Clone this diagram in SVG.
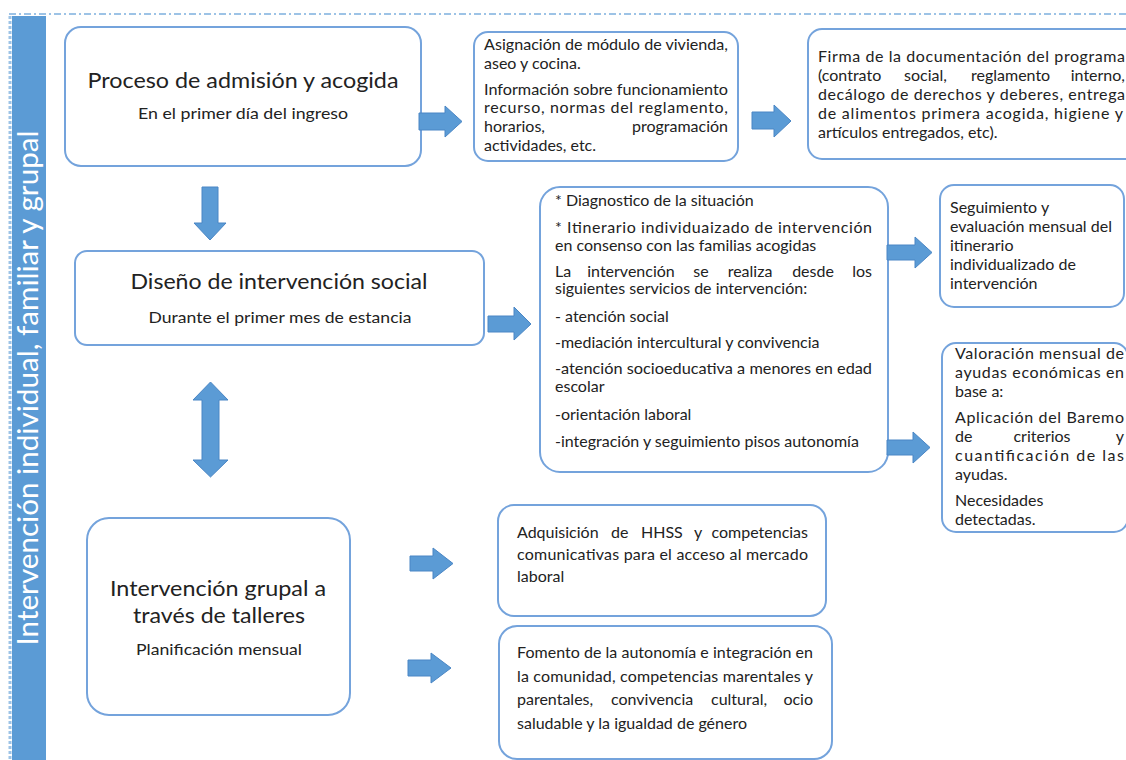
<svg xmlns="http://www.w3.org/2000/svg" width="1126" height="760" viewBox="0 0 1126 760">
<style>
  .box { fill: #ffffff; stroke: #74a3dc; stroke-width: 2; }
  .arrow { fill: #5b9bd5; stroke: #4a86c5; stroke-width: 1; }
  text { font-family: Lato, "Liberation Sans", sans-serif; fill: #222222; }
  .title { font-size: 22px; text-anchor: middle; }
  .sub { font-size: 16px; text-anchor: middle; }
  .body { font-size: 16px; }
  .end { text-anchor: end; }
  .mid { text-anchor: middle; }
  .side { font-size: 28px; fill: #ffffff; text-anchor: middle; }
</style>

<g id="frame">
  <line x1="9" y1="14" x2="1126" y2="14" stroke="#9dc3e6" stroke-width="2" stroke-dasharray="7 3 2 3"/>
  <line x1="10" y1="16" x2="10" y2="760" stroke="#9dc3e6" stroke-width="3" stroke-dasharray="3 2"/>
  <rect x="12" y="16" width="34" height="744" fill="#5b9bd5"/>
  <text class="side" transform="translate(38,388) rotate(-90)" textLength="515" lengthAdjust="spacingAndGlyphs">Intervención individual, familiar y grupal</text>
</g>

<g id="node-admision">
  <rect class="box" x="65" y="27" width="356" height="139" rx="16"/>
  <text class="title" x="243" y="88" font-size="23" textLength="311" lengthAdjust="spacingAndGlyphs">Proceso de admisión y acogida</text>
  <text class="sub" x="243" y="119" textLength="210" lengthAdjust="spacingAndGlyphs">En el primer día del ingreso</text>
</g>

<g id="node-asignacion">
  <rect class="box" x="474" y="32" width="264" height="129" rx="14"/>
  <text class="body" x="484" y="50" textLength="244" lengthAdjust="spacingAndGlyphs">Asignación de módulo de vivienda,</text>
  <text class="body" x="484" y="69">aseo y cocina.</text>
  <text class="body" x="484" y="95" textLength="244" lengthAdjust="spacingAndGlyphs">Información sobre funcionamiento</text>
  <text class="body" x="484" y="113" textLength="244" lengthAdjust="spacing">recurso, normas del reglamento,</text>
  <text class="body" x="484" y="132">horarios,</text>
  <text class="body end" x="728" y="132">programación</text>
  <text class="body" x="484" y="151">actividades, etc.</text>
</g>

<g id="node-firma">
  <rect class="box" x="808" y="29" width="340" height="130" rx="14"/>
  <text class="body" x="818" y="62" textLength="307" lengthAdjust="spacing">Firma de la documentación del programa</text>
  <text class="body" x="818" y="81">(contrato</text>
  <text class="body" x="904" y="81">social,</text>
  <text class="body" x="971" y="81">reglamento</text>
  <text class="body end" x="1125" y="81">interno,</text>
  <text class="body" x="818" y="100" textLength="307" lengthAdjust="spacing">decálogo de derechos y deberes, entrega</text>
  <text class="body" x="818" y="119" textLength="305" lengthAdjust="spacing">de alimentos primera acogida, higiene y</text>
  <text class="body" x="818" y="138">artículos entregados,  etc).</text>
</g>

<g id="node-diseno">
  <rect class="box" x="75" y="251" width="409" height="94" rx="12"/>
  <text class="title" x="279" y="289" textLength="297" lengthAdjust="spacingAndGlyphs">Diseño de intervención social</text>
  <text class="sub" x="280" y="323" textLength="263" lengthAdjust="spacingAndGlyphs">Durante el primer mes de estancia</text>
</g>

<g id="node-servicios">
  <rect class="box" x="540" y="187" width="348" height="285" rx="20"/>
  <text class="body" x="555" y="206">* Diagnostico de la situación</text>
  <text class="body" x="555" y="233" textLength="317" lengthAdjust="spacing">* Itinerario individuaizado de intervención</text>
  <text class="body" x="555" y="251">en consenso con las familias acogidas</text>
  <text class="body" x="555" y="277">La</text>
  <text class="body mid" x="631" y="277">intervención</text>
  <text class="body mid" x="701" y="277">se</text>
  <text class="body mid" x="750" y="277">realiza</text>
  <text class="body mid" x="813" y="277">desde</text>
  <text class="body end" x="872" y="277">los</text>
  <text class="body" x="555" y="294">siguientes servicios de intervención:</text>
  <text class="body" x="555" y="322">- atención social</text>
  <text class="body" x="555" y="348">-mediación intercultural y convivencia</text>
  <text class="body" x="555" y="374" textLength="317" lengthAdjust="spacingAndGlyphs">-atención socioeducativa a menores en edad</text>
  <text class="body" x="555" y="392">escolar</text>
  <text class="body" x="555" y="420">-orientación laboral</text>
  <text class="body" x="555" y="447">-integración y seguimiento pisos autonomía</text>
</g>

<g id="node-seguimiento">
  <rect class="box" x="940" y="185" width="184" height="122" rx="14"/>
  <text class="body" x="950" y="213">Seguimiento y</text>
  <text class="body" x="950" y="232">evaluación mensual del</text>
  <text class="body" x="950" y="251">itinerario</text>
  <text class="body" x="950" y="270">individualizado de</text>
  <text class="body" x="950" y="289">intervención</text>
</g>

<g id="node-valoracion">
  <rect class="box" x="942" y="343" width="186" height="189" rx="14"/>
  <text class="body" x="955" y="359" textLength="169" lengthAdjust="spacing">Valoración mensual de</text>
  <text class="body" x="955" y="378" textLength="169" lengthAdjust="spacing">ayudas económicas en</text>
  <text class="body" x="955" y="397">base a:</text>
  <text class="body" x="955" y="423" textLength="169" lengthAdjust="spacing">Aplicación del Baremo</text>
  <text class="body" x="955" y="442">de</text>
  <text class="body mid" x="1042" y="442">criterios</text>
  <text class="body end" x="1124" y="442">y</text>
  <text class="body" x="955" y="461" textLength="169" lengthAdjust="spacing">cuantificación de las</text>
  <text class="body" x="955" y="480">ayudas.</text>
  <text class="body" x="955" y="506">Necesidades</text>
  <text class="body" x="955" y="525">detectadas.</text>
</g>

<g id="node-grupal">
  <rect class="box" x="87" y="518" width="263" height="197" rx="22"/>
  <text class="title" x="218" y="596" font-size="23" textLength="216" lengthAdjust="spacingAndGlyphs">Intervención grupal a</text>
  <text class="title" x="219" y="623" font-size="23" textLength="172" lengthAdjust="spacingAndGlyphs">través de talleres</text>
  <text class="sub" x="219" y="655" textLength="166" lengthAdjust="spacingAndGlyphs">Planificación mensual</text>
</g>

<g id="node-hhss">
  <rect class="box" x="498" y="505" width="328" height="111" rx="16"/>
  <text class="body" x="517" y="538">Adquisición</text>
  <text class="body" x="611" y="538">de</text>
  <text class="body" x="641" y="538">HHSS</text>
  <text class="body" x="694" y="538">y</text>
  <text class="body end" x="808" y="538">competencias</text>
  <text class="body" x="517" y="560" textLength="291" lengthAdjust="spacing">comunicativas para el acceso al mercado</text>
  <text class="body" x="517" y="582">laboral</text>
</g>

<g id="node-fomento">
  <rect class="box" x="499" y="626" width="333" height="133" rx="18"/>
  <text class="body" x="517" y="658" textLength="296" lengthAdjust="spacing">Fomento de la autonomía e integración en</text>
  <text class="body" x="517" y="681.5" textLength="296" lengthAdjust="spacing">la comunidad, competencias marentales y</text>
  <text class="body" x="517" y="705">parentales,</text>
  <text class="body" x="611" y="705">convivencia</text>
  <text class="body" x="711" y="705">cultural,</text>
  <text class="body end" x="813" y="705">ocio</text>
  <text class="body" x="517" y="728.5">saludable y la igualdad de género</text>
</g>

<g id="connectors">
  <polygon class="arrow" points="419,113 445,113 445,106 462,121.5 445,137 445,130 419,130"/>
  <polygon class="arrow" points="752,112 774,112 774,105 791,121 774,137 774,129 752,129"/>
  <polygon class="arrow" points="202,187 218,187 218,223 226,223 210,240 194,223 202,223"/>
  <polygon class="arrow" points="210.5,382 228,400 219,400 219,460 228,460 210.5,477 193,460 202,460 202,400 193,400"/>
  <polygon class="arrow" points="488,316 514,316 514,307 531,324 514,340 514,332 488,332"/>
  <polygon class="arrow" points="887,245 915,245 915,237 932,252.5 915,268 915,260 887,260"/>
  <polygon class="arrow" points="887,440 913,440 913,432 930,447.5 913,463 913,455 887,455"/>
  <polygon class="arrow" points="410,556 433,556 433,548 453,563.5 433,579 433,571 410,571"/>
  <polygon class="arrow" points="408,660 431,660 431,653 451,668 431,683 431,676 408,676"/>
</g>
</svg>
